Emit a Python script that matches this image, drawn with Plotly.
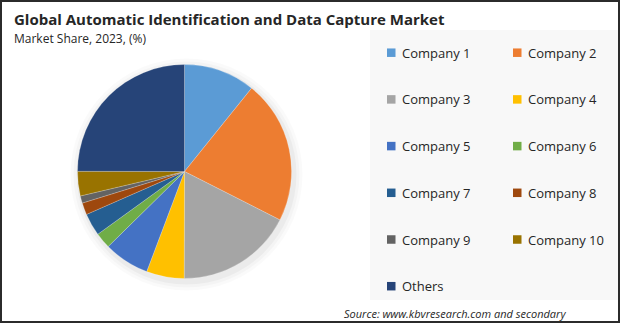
import plotly.graph_objects as go

labels = ["Company 1", "Company 2", "Company 3", "Company 4", "Company 5",
          "Company 6", "Company 7", "Company 8", "Company 9", "Company 10", "Others"]
values = [10.8, 21.7, 17.6, 5.7, 6.9, 2.4, 3.4, 1.8, 1.1, 3.7, 25.0]
colors = ["#5B9BD5", "#ED7D31", "#A5A5A5", "#FFC000", "#4472C4", "#70AD47",
          "#255E91", "#9E480E", "#636363", "#997300", "#264478"]

title = "Global Automatic Identification and Data Capture Market"
subtitle = "Market Share, 2023, (%)"
source = "Source: www.kbvresearch.com and secondary"

W, H = 620, 323
FONT = "Open Sans"


def px(x):
    return x / W


def py(y):
    return 1 - y / H


cx, cy, r = 184.5, 171.5, 107

fig = go.Figure(go.Pie(
    labels=labels, values=values, sort=False, direction="clockwise", rotation=0,
    marker=dict(colors=colors, line=dict(color="rgba(255,255,255,0.35)", width=0.6)),
    textinfo="none", hoverinfo="label+percent", showlegend=False,
    domain=dict(x=[px(cx - r), px(cx + r)], y=[py(cy + r), py(cy - r)]),
))

shapes = []
# legend panel
shapes.append(dict(type="rect", xref="paper", yref="paper", x0=px(370), x1=1,
                   y0=py(300), y1=py(30), fillcolor="#F8F8F8", line=dict(width=0), layer="below"))
# soft shadow under pie
for i, (grow, a) in enumerate([(9, 0.018), (6, 0.025), (3, 0.035)]):
    shapes.append(dict(type="circle", xref="paper", yref="paper",
                       x0=px(cx - r - grow + 2), x1=px(cx + r + grow + 2),
                       y0=py(cy + r + grow + 3), y1=py(cy - r - grow + 3),
                       fillcolor=f"rgba(0,0,0,{a})", line=dict(width=0), layer="below"))

annotations = [
    dict(text=f"<b>{title}</b>", x=px(12), y=py(19), xref="paper", yref="paper",
         xanchor="left", yanchor="middle", showarrow=False,
         font=dict(family=FONT, size=15, color="#262626")),
    dict(text=subtitle, x=px(12), y=py(38), xref="paper", yref="paper",
         xanchor="left", yanchor="middle", showarrow=False,
         font=dict(family=FONT, size=12, color="#262626")),
    dict(text=f"<i>{source}</i>", x=px(342), y=py(313), xref="paper", yref="paper",
         xanchor="left", yanchor="middle", showarrow=False,
         font=dict(family=FONT, size=11, color="#262626")),
]

col_x = [387, 513]
row_y0, row_dy = 52.7, 46.7
sq = 8.5
for i, (lab, col) in enumerate(zip(labels, colors)):
    c, rr = i % 2, i // 2
    x0 = col_x[c]
    yc = row_y0 + rr * row_dy
    shapes.append(dict(type="rect", xref="paper", yref="paper",
                       x0=px(x0), x1=px(x0 + sq), y0=py(yc + sq / 2), y1=py(yc - sq / 2),
                       fillcolor=col, line=dict(width=0)))
    annotations.append(dict(text=lab, x=px(x0 + 12.5), y=py(yc), xref="paper", yref="paper",
                            xanchor="left", yanchor="middle", showarrow=False,
                            font=dict(family=FONT, size=13, color="#262626")))

# outer border
shapes.append(dict(type="rect", xref="paper", yref="paper", x0=0, x1=1, y0=0, y1=1,
                   line=dict(color="#2B2B2B", width=4), fillcolor="rgba(0,0,0,0)"))

fig.update_layout(width=W, height=H, margin=dict(l=0, r=0, t=0, b=0),
                  paper_bgcolor="white", plot_bgcolor="white",
                  shapes=shapes, annotations=annotations)

fig.write_html("out.html")
